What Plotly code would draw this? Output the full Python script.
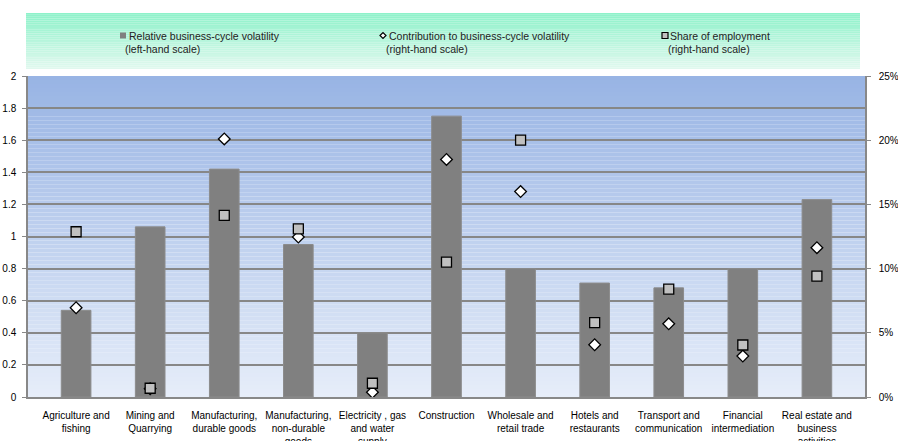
import plotly.graph_objects as go

# Sector categories (tick labels)
categories = [
    "Agriculture and<br>fishing",
    "Mining and<br>Quarrying",
    "Manufacturing,<br>durable goods",
    "Manufacturing,<br>non-durable<br>goods",
    "Electricity , gas<br>and water<br>supply",
    "Construction",
    "Wholesale and<br>retail trade",
    "Hotels and<br>restaurants",
    "Transport and<br>communication",
    "Financial<br>intermediation",
    "Real estate and<br>business<br>activities",
]

# Relative business-cycle volatility (left-hand scale)
rel_volatility = [0.54, 1.06, 1.42, 0.95, 0.40, 1.75, 0.80, 0.71, 0.68, 0.80, 1.23]

# Contribution to business-cycle volatility (right-hand scale, share)
contribution = [0.0695, 0.0065, 0.201, 0.1246, 0.0037, 0.185, 0.160, 0.0407, 0.057, 0.0319, 0.1163]

# Share of employment (right-hand scale, share)
emp_share = [0.1287, 0.0068, 0.1415, 0.131, 0.0107, 0.105, 0.200, 0.058, 0.084, 0.0405, 0.0942]

W, H = 898, 441
L, R, T, B = 28, 865, 76, 397
FONT = "Liberation Sans, Arial, sans-serif"


def px_x(x):
    return (x - L) / (R - L)


def px_y(y):
    return (B - y) / (B - T)


def lerp(c1, c2, t):
    return "rgb(%d,%d,%d)" % tuple(round(a + (b - a) * t) for a, b in zip(c1, c2))


fig = go.Figure()

fig.add_trace(go.Bar(
    x=categories, y=rel_volatility, name="Relative business-cycle volatility",
    marker=dict(color="#808080", line=dict(color="#8c8c8c", width=1)),
    width=0.4, yaxis="y",
))
fig.add_trace(go.Scatter(
    x=categories, y=contribution, mode="markers", yaxis="y2",
    name="Contribution to business-cycle volatility",
    marker=dict(symbol="diamond", size=9, color="white",
                line=dict(color="black", width=1.3)),
))
fig.add_trace(go.Scatter(
    x=categories, y=emp_share, mode="markers", yaxis="y2",
    name="Share of employment",
    marker=dict(symbol="square", size=10, color="#c0c0c0",
                line=dict(color="black", width=1.3)),
))

shapes = []

# Plot-area vertical gradient
n = 80
top_c, bot_c = (152, 180, 228), (230, 237, 249)
for i in range(n):
    y0 = T + (B - T) * i / n
    y1 = T + (B - T) * (i + 1) / n
    shapes.append(dict(type="rect", xref="paper", yref="paper",
                       x0=0, x1=1, y0=px_y(y1), y1=px_y(y0),
                       fillcolor=lerp(top_c, bot_c, i / (n - 1)),
                       line=dict(width=0), layer="below"))

# Legend band gradient
LX0, LX1, LY0, LY1 = 26, 860, 13, 69
g_top, g_bot = (142, 242, 202), (224, 248, 238)
m = 30
for i in range(m):
    y0 = LY0 + (LY1 - LY0) * i / m
    y1 = LY0 + (LY1 - LY0) * (i + 1) / m
    shapes.append(dict(type="rect", xref="paper", yref="paper",
                       x0=px_x(LX0), x1=px_x(LX1), y0=px_y(y1), y1=px_y(y0),
                       fillcolor=lerp(g_top, g_bot, i / (m - 1)),
                       line=dict(width=0), layer="below"))

# Legend markers
def marker_rect(cx, cy, s, fill, line_col, lw):
    return dict(type="rect", xref="paper", yref="paper",
                x0=px_x(cx - s / 2), x1=px_x(cx + s / 2),
                y0=px_y(cy + s / 2), y1=px_y(cy - s / 2),
                fillcolor=fill, line=dict(color=line_col, width=lw))


shapes.append(marker_rect(123, 35.5, 6, "#808080", "#808080", 0))
shapes.append(marker_rect(665, 35.5, 6, "#c0c0c0", "black", 1.2))
shapes.append(dict(type="path", xref="paper", yref="paper",
                   path="M {a},{b} L {c},{d} L {e},{b} L {c},{f} Z".format(
                       a=px_x(380), b=px_y(35.5), c=px_x(383), d=px_y(32.5),
                       e=px_x(386), f=px_y(38.5)),
                   fillcolor="white", line=dict(color="black", width=1.2)))

annotations = []
legend_items = [
    (127, 123, "Relative business-cycle volatility", "(left-hand scale)"),
    (387, 384, "Contribution to business-cycle volatility", "(right-hand scale)"),
    (668, 666, "Share of employment", "(right-hand scale)"),
]
for x1, x2, line1, line2 in legend_items:
    annotations.append(dict(xref="paper", yref="paper", x=px_x(x1), y=px_y(35.5),
                            text=line1, showarrow=False, xanchor="left", yanchor="middle",
                            font=dict(family=FONT, size=10.5, color="#222")))
    annotations.append(dict(xref="paper", yref="paper", x=px_x(x2), y=px_y(49),
                            text=line2, showarrow=False, xanchor="left", yanchor="middle",
                            font=dict(family=FONT, size=10.5, color="#222")))

fig.update_layout(
    width=W, height=H,
    margin=dict(l=L, r=W - R, t=T, b=H - B, pad=0, autoexpand=False),
    paper_bgcolor="white", plot_bgcolor="rgba(0,0,0,0)",
    showlegend=False, bargap=0.6,
    font=dict(family=FONT, size=10, color="black"),
    shapes=shapes, annotations=annotations,
    xaxis=dict(type="category", showgrid=False, showline=True, linecolor="#888",
               linewidth=1.5, ticks="", tickfont=dict(size=10, family=FONT),
               ticklabelstandoff=8, automargin=False),
    yaxis=dict(range=[0, 2], dtick=0.2, tick0=0, showgrid=True, gridcolor="#878787",
               gridwidth=1.5, zeroline=False, showline=True, linecolor="#888",
               linewidth=1.5, ticks="outside", ticklen=4, tickcolor="#888",
               tickfont=dict(size=10, family=FONT), ticklabelstandoff=4,
               automargin=False),
    yaxis2=dict(range=[0, 0.25], dtick=0.05, tick0=0, overlaying="y", side="right",
                tickformat=".0%", showgrid=False, zeroline=False, showline=True,
                linecolor="#888", linewidth=1.5, ticks="outside", ticklen=4,
                tickcolor="#888", tickfont=dict(size=10, family=FONT),
                ticklabelstandoff=6, automargin=False),
)

fig.write_html("out.html")
